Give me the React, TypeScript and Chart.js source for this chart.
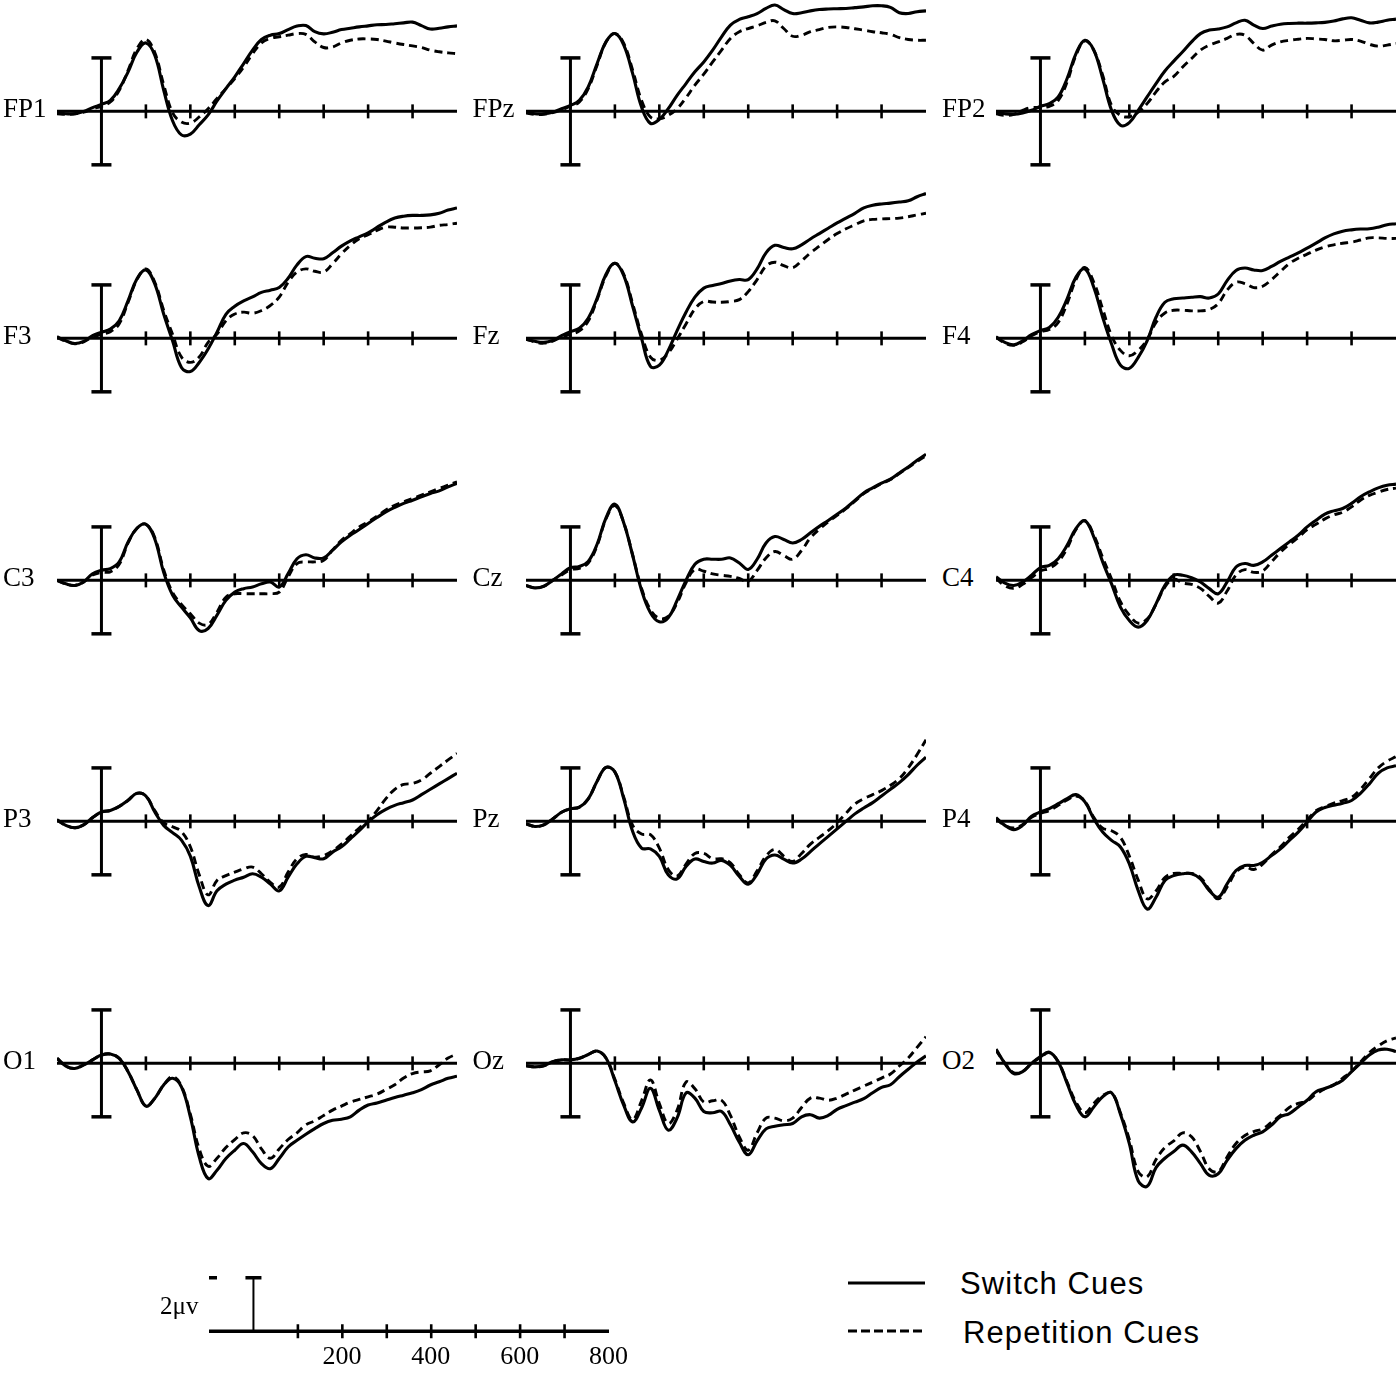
import React, { useEffect, useRef } from "react";
import { Chart, registerables } from "chart.js";

Chart.register(...registerables);

// ---------- data (time in ms, amplitude in µV) ----------
const TIMES = [
  -100, -80, -60, -40, -20, 0, 20, 40, 60, 80, 100, 120, 140, 160, 180, 200,
  220, 240, 260, 280, 300, 320, 340, 360, 380, 400, 420, 440, 460, 480, 500,
  520, 540, 560, 580, 600, 620, 640, 660, 680, 700, 720, 740, 760, 780, 800,
];
const TICK_TIMES = [100, 200, 300, 400, 500, 600, 700];
const SCALE_TICK_LABELS = [200, 400, 600, 800];
const CAL_UV = 2;

const CHANNEL_GRID = [
  ["FP1", "FPz", "FP2"],
  ["F3", "Fz", "F4"],
  ["C3", "Cz", "C4"],
  ["P3", "Pz", "P4"],
  ["O1", "Oz", "O2"],
];

const SWITCH_FP1 = [-0.06, -0.09, -0.09, 0, 0.14, 0.26, 0.41, 0.85, 1.48, 2.22, 2.56, 2.1, 0.8, -0.35, -0.88, -0.85, -0.5, -0.13, 0.39, 0.85, 1.29, 1.79, 2.29, 2.69, 2.85, 2.91, 3.06, 3.19, 3.21, 2.98, 2.9, 2.96, 3.06, 3.11, 3.16, 3.2, 3.24, 3.25, 3.28, 3.31, 3.34, 3.21, 3.08, 3.11, 3.16, 3.2];
const REPEAT_FP1 = [-0.09, -0.11, -0.09, -0.03, 0.1, 0.19, 0.35, 0.79, 1.54, 2.35, 2.69, 2.2, 1.0, -0.05, -0.4, -0.44, -0.21, 0.1, 0.48, 0.85, 1.23, 1.66, 2.16, 2.56, 2.73, 2.79, 2.85, 2.91, 2.88, 2.6, 2.39, 2.41, 2.56, 2.66, 2.71, 2.71, 2.69, 2.63, 2.56, 2.5, 2.45, 2.39, 2.29, 2.23, 2.19, 2.16];

const SWITCH_FPZ = [-0.03, -0.09, -0.09, -0.03, 0.1, 0.22, 0.41, 0.91, 1.79, 2.6, 2.91, 2.48, 1.41, 0.16, -0.45, -0.3, 0.1, 0.6, 1.04, 1.48, 1.85, 2.29, 2.79, 3.23, 3.44, 3.54, 3.66, 3.85, 3.98, 3.81, 3.66, 3.69, 3.76, 3.81, 3.83, 3.84, 3.85, 3.88, 3.91, 3.95, 3.95, 3.89, 3.69, 3.66, 3.73, 3.76];
const REPEAT_FPZ = [-0.06, -0.11, -0.11, -0.05, 0.06, 0.19, 0.35, 0.85, 1.73, 2.6, 2.91, 2.54, 1.54, 0.41, -0.21, -0.28, -0.15, 0.1, 0.51, 0.98, 1.39, 1.85, 2.29, 2.73, 2.98, 3.1, 3.2, 3.33, 3.39, 3.1, 2.81, 2.85, 2.98, 3.06, 3.14, 3.16, 3.14, 3.09, 3.04, 2.98, 2.94, 2.88, 2.76, 2.69, 2.66, 2.66];

const SWITCH_FP2 = [-0.03, -0.09, -0.11, -0.06, 0.04, 0.19, 0.29, 0.54, 1.23, 2.16, 2.66, 2.29, 1.23, 0.04, -0.52, -0.42, 0.04, 0.54, 1.04, 1.51, 1.88, 2.23, 2.6, 2.91, 3.04, 3.08, 3.16, 3.31, 3.41, 3.23, 3.1, 3.19, 3.26, 3.29, 3.3, 3.3, 3.31, 3.33, 3.38, 3.46, 3.5, 3.41, 3.31, 3.34, 3.41, 3.45];
const REPEAT_FP2 = [-0.09, -0.15, -0.11, 0.04, 0.14, 0.14, 0.19, 0.41, 1.1, 2.1, 2.64, 2.29, 1.35, 0.22, -0.15, -0.2, -0.03, 0.29, 0.73, 1.1, 1.31, 1.66, 1.98, 2.29, 2.48, 2.6, 2.73, 2.88, 2.85, 2.54, 2.29, 2.48, 2.6, 2.66, 2.7, 2.73, 2.71, 2.69, 2.64, 2.66, 2.69, 2.63, 2.51, 2.44, 2.48, 2.54];

const SWITCH_F3 = [0.06, -0.09, -0.19, -0.11, 0.1, 0.23, 0.35, 0.66, 1.41, 2.23, 2.56, 2.04, 0.91, -0.09, -1.09, -1.24, -0.9, -0.4, 0.23, 0.9, 1.2, 1.4, 1.55, 1.72, 1.8, 1.9, 2.25, 2.75, 3.06, 3.0, 2.98, 3.2, 3.45, 3.65, 3.8, 3.95, 4.15, 4.35, 4.5, 4.57, 4.6, 4.6, 4.62, 4.68, 4.8, 4.88];
const REPEAT_F3 = [0.04, -0.11, -0.2, -0.13, 0.05, 0.15, 0.25, 0.55, 1.35, 2.2, 2.6, 2.1, 1.05, 0.15, -0.7, -0.9, -0.7, -0.15, 0.16, 0.66, 0.91, 0.98, 0.94, 1.04, 1.23, 1.54, 2.1, 2.48, 2.6, 2.51, 2.48, 2.79, 3.16, 3.48, 3.73, 3.88, 4.04, 4.16, 4.16, 4.13, 4.13, 4.14, 4.16, 4.23, 4.26, 4.31];

const SWITCH_FZ = [-0.03, -0.11, -0.15, -0.08, 0.1, 0.25, 0.38, 0.75, 1.5, 2.4, 2.81, 2.35, 1.2, 0.0, -1.05, -1.0, -0.45, 0.29, 0.98, 1.54, 1.88, 1.98, 2.05, 2.15, 2.2, 2.2, 2.6, 3.2, 3.48, 3.4, 3.35, 3.5, 3.72, 3.92, 4.12, 4.32, 4.5, 4.68, 4.88, 4.98, 5.03, 5.06, 5.1, 5.15, 5.3, 5.42];
const REPEAT_FZ = [-0.03, -0.13, -0.18, -0.1, 0.05, 0.15, 0.28, 0.65, 1.45, 2.35, 2.81, 2.4, 1.3, 0.15, -0.7, -0.82, -0.55, -0.03, 0.54, 1.1, 1.38, 1.36, 1.35, 1.38, 1.45, 1.75, 2.2, 2.7, 2.85, 2.72, 2.64, 2.9, 3.2, 3.45, 3.7, 3.92, 4.1, 4.25, 4.4, 4.45, 4.47, 4.48, 4.5, 4.55, 4.62, 4.68];

const SWITCH_F4 = [0.06, -0.15, -0.24, -0.09, 0.14, 0.29, 0.41, 0.79, 1.48, 2.29, 2.6, 1.91, 0.79, -0.21, -1.0, -1.12, -0.71, -0.09, 0.79, 1.35, 1.48, 1.51, 1.54, 1.56, 1.51, 1.66, 2.16, 2.54, 2.63, 2.56, 2.54, 2.69, 2.88, 3.04, 3.2, 3.38, 3.56, 3.76, 3.91, 4.01, 4.06, 4.09, 4.1, 4.16, 4.25, 4.29];
const REPEAT_F4 = [0.04, -0.18, -0.26, -0.13, 0.1, 0.25, 0.33, 0.6, 1.3, 2.2, 2.65, 2.1, 1.1, 0.1, -0.45, -0.65, -0.45, -0.05, 0.6, 0.95, 1.05, 1.05, 1.03, 1.03, 1.08, 1.3, 1.8, 2.1, 2.05, 1.9, 1.95, 2.2, 2.5, 2.8, 3.0, 3.15, 3.3, 3.42, 3.5, 3.56, 3.6, 3.68, 3.76, 3.76, 3.74, 3.74];

const SWITCH_C3 = [0, -0.13, -0.19, -0.06, 0.25, 0.38, 0.44, 0.69, 1.44, 1.95, 2.1, 1.55, 0.3, -0.55, -1.0, -1.4, -1.88, -1.8, -1.3, -0.75, -0.44, -0.31, -0.25, -0.13, -0.06, -0.25, 0.25, 0.81, 0.96, 0.84, 0.84, 1.13, 1.44, 1.69, 1.9, 2.13, 2.35, 2.56, 2.73, 2.88, 3.0, 3.13, 3.25, 3.35, 3.5, 3.63];
const REPEAT_C3 = [0, -0.13, -0.19, -0.06, 0.2, 0.3, 0.32, 0.6, 1.4, 1.95, 2.1, 1.6, 0.4, -0.45, -0.9, -1.25, -1.6, -1.65, -1.19, -0.63, -0.5, -0.5, -0.5, -0.5, -0.5, -0.44, 0.13, 0.63, 0.69, 0.69, 0.75, 1.13, 1.5, 1.75, 2.0, 2.19, 2.4, 2.63, 2.81, 2.94, 3.06, 3.19, 3.31, 3.44, 3.56, 3.69];

const SWITCH_CZ = [-0.19, -0.28, -0.22, 0, 0.24, 0.47, 0.52, 0.71, 1.35, 2.34, 2.85, 2.15, 0.93, -0.37, -1.21, -1.55, -1.4, -0.75, 0, 0.6, 0.79, 0.79, 0.79, 0.84, 0.65, 0.41, 0.79, 1.4, 1.64, 1.53, 1.4, 1.53, 1.78, 2.02, 2.24, 2.47, 2.71, 2.99, 3.27, 3.46, 3.64, 3.79, 4.02, 4.24, 4.49, 4.72];
const REPEAT_CZ = [-0.19, -0.28, -0.22, 0, 0.2, 0.4, 0.45, 0.65, 1.3, 2.3, 2.8, 2.15, 0.95, -0.3, -1.1, -1.42, -1.35, -0.84, -0.09, 0.41, 0.34, 0.24, 0.19, 0.15, 0.07, -0.04, 0.37, 0.84, 1.08, 0.93, 0.79, 1.12, 1.59, 1.91, 2.19, 2.43, 2.68, 2.96, 3.25, 3.44, 3.62, 3.77, 4.0, 4.22, 4.45, 4.66];

const SWITCH_C4 = [0.13, -0.1, -0.19, -0.06, 0.19, 0.48, 0.56, 0.81, 1.31, 1.94, 2.23, 1.63, 0.69, -0.13, -1.0, -1.5, -1.75, -1.5, -0.88, -0.19, 0.19, 0.19, 0.1, -0.06, -0.31, -0.5, -0.06, 0.5, 0.63, 0.56, 0.69, 0.94, 1.19, 1.44, 1.69, 2.0, 2.25, 2.48, 2.6, 2.69, 2.88, 3.13, 3.31, 3.46, 3.56, 3.6];
const REPEAT_C4 = [0.08, -0.2, -0.3, -0.15, 0.1, 0.35, 0.45, 0.7, 1.2, 1.9, 2.23, 1.7, 0.85, 0.05, -0.8, -1.3, -1.6, -1.45, -0.9, -0.25, 0.05, -0.1, -0.15, -0.3, -0.6, -0.85, -0.4, 0.2, 0.4, 0.3, 0.35, 0.7, 1.05, 1.35, 1.6, 1.9, 2.1, 2.3, 2.45, 2.55, 2.75, 3.0, 3.18, 3.3, 3.4, 3.45];

const SWITCH_P3 = [0.06, -0.15, -0.24, -0.13, 0.14, 0.35, 0.41, 0.56, 0.79, 1.05, 0.95, 0.35, -0.15, -0.42, -0.7, -1.3, -2.45, -3.15, -2.6, -2.35, -2.2, -2.09, -1.96, -2.09, -2.34, -2.6, -2.09, -1.59, -1.31, -1.36, -1.4, -1.15, -0.95, -0.65, -0.35, -0.02, 0.25, 0.45, 0.6, 0.7, 0.8, 1.0, 1.2, 1.4, 1.6, 1.8];
const REPEAT_P3 = [0.06, -0.15, -0.24, -0.13, 0.14, 0.35, 0.41, 0.56, 0.79, 1.05, 0.95, 0.4, -0.05, -0.2, -0.38, -0.95, -2.0, -2.75, -2.21, -2.03, -1.9, -1.78, -1.71, -1.96, -2.28, -2.46, -1.9, -1.4, -1.24, -1.34, -1.28, -1.1, -0.85, -0.55, -0.25, 0.02, 0.4, 0.85, 1.2, 1.38, 1.42, 1.55, 1.8, 2.05, 2.3, 2.54];

const SWITCH_PZ = [-0.09, -0.19, -0.13, 0.09, 0.34, 0.47, 0.53, 0.84, 1.5, 2.02, 1.85, 0.84, -0.38, -1.0, -1.03, -1.31, -2.0, -2.15, -1.69, -1.41, -1.5, -1.56, -1.46, -1.65, -2.06, -2.35, -1.97, -1.41, -1.26, -1.41, -1.56, -1.41, -1.13, -0.84, -0.56, -0.28, 0, 0.28, 0.5, 0.7, 0.95, 1.2, 1.45, 1.75, 2.1, 2.4];
const REPEAT_PZ = [-0.09, -0.19, -0.13, 0.09, 0.34, 0.47, 0.53, 0.84, 1.5, 2.02, 1.85, 0.9, -0.15, -0.47, -0.5, -1.0, -1.8, -2.05, -1.6, -1.2, -1.2, -1.4, -1.4, -1.55, -2.0, -2.3, -1.85, -1.3, -1.05, -1.3, -1.5, -1.2, -0.85, -0.6, -0.35, -0.05, 0.3, 0.65, 0.85, 1.0, 1.15, 1.35, 1.6, 2.0, 2.5, 3.05];

const SWITCH_P4 = [0.14, -0.15, -0.31, -0.15, 0.19, 0.35, 0.48, 0.66, 0.85, 1.0, 0.73, 0.1, -0.4, -0.71, -0.96, -1.59, -2.59, -3.28, -2.84, -2.21, -2.03, -1.96, -1.96, -2.15, -2.59, -2.84, -2.34, -1.84, -1.65, -1.65, -1.53, -1.28, -1.03, -0.71, -0.4, -0.03, 0.35, 0.52, 0.6, 0.68, 0.78, 1.05, 1.4, 1.8, 2.0, 2.08];
const REPEAT_P4 = [0.1, -0.15, -0.25, -0.12, 0.15, 0.3, 0.4, 0.6, 0.8, 0.95, 0.75, 0.15, -0.25, -0.35, -0.6, -1.3, -2.2, -2.9, -2.6, -2.1, -1.95, -1.95, -1.95, -2.1, -2.55, -2.9, -2.45, -1.9, -1.7, -1.8, -1.6, -1.25, -0.95, -0.6, -0.3, 0.05, 0.4, 0.55, 0.68, 0.78, 0.9, 1.2, 1.6, 2.0, 2.25, 2.42];

const SWITCH_O1 = [0.19, -0.1, -0.19, -0.06, 0.13, 0.31, 0.35, 0.19, -0.31, -1.0, -1.6, -1.31, -0.81, -0.56, -0.88, -2.0, -3.5, -4.31, -4.0, -3.56, -3.25, -3.0, -3.31, -3.75, -3.94, -3.56, -3.13, -2.88, -2.65, -2.44, -2.25, -2.13, -2.09, -2.0, -1.75, -1.56, -1.48, -1.38, -1.28, -1.19, -1.1, -0.98, -0.81, -0.69, -0.56, -0.48];
const REPEAT_O1 = [0.19, -0.1, -0.19, -0.06, 0.13, 0.31, 0.35, 0.19, -0.31, -1.0, -1.6, -1.31, -0.81, -0.5, -0.85, -1.9, -3.2, -3.85, -3.55, -3.15, -2.85, -2.6, -2.7, -3.2, -3.55, -3.2, -2.85, -2.6, -2.3, -2.15, -1.95, -1.75, -1.6, -1.45, -1.35, -1.25, -1.15, -0.98, -0.8, -0.55, -0.38, -0.32, -0.28, -0.05, 0.2, 0.35];

const SWITCH_OZ = [-0.09, -0.13, -0.09, 0.06, 0.13, 0.13, 0.19, 0.33, 0.46, 0.2, -0.65, -1.57, -2.19, -1.67, -0.93, -1.76, -2.5, -2.04, -1.11, -1.3, -1.8, -1.85, -1.8, -2.3, -2.95, -3.42, -2.9, -2.45, -2.35, -2.3, -2.25, -2.0, -1.92, -2.05, -1.95, -1.72, -1.58, -1.45, -1.32, -1.1, -0.9, -0.8, -0.5, -0.22, 0.05, 0.28];
const REPEAT_OZ = [-0.09, -0.13, -0.09, 0.06, 0.13, 0.13, 0.19, 0.33, 0.46, 0.2, -0.6, -1.5, -2.1, -1.4, -0.62, -1.5, -2.25, -1.75, -0.7, -0.95, -1.45, -1.4, -1.38, -1.95, -2.75, -3.25, -2.6, -2.05, -2.05, -2.15, -2.05, -1.65, -1.3, -1.3, -1.38, -1.3, -1.15, -1.0, -0.85, -0.7, -0.55, -0.4, -0.1, 0.2, 0.6, 1.0];

const SWITCH_O2 = [0.53, 0, -0.38, -0.31, 0, 0.25, 0.42, 0.06, -0.75, -1.56, -2.0, -1.63, -1.25, -1.1, -1.9, -3.0, -4.4, -4.6, -3.9, -3.55, -3.3, -3.06, -3.31, -3.75, -4.19, -4.13, -3.63, -3.19, -2.88, -2.69, -2.56, -2.31, -2.0, -1.88, -1.63, -1.38, -1.06, -0.94, -0.81, -0.63, -0.31, 0, 0.31, 0.5, 0.53, 0.44];
const REPEAT_O2 = [0.5, 0, -0.35, -0.3, 0, 0.22, 0.4, 0.06, -0.7, -1.45, -1.85, -1.5, -1.2, -1.1, -1.85, -2.85, -4.05, -4.25, -3.6, -3.15, -2.9, -2.6, -2.75, -3.3, -3.95, -4.05, -3.5, -3.0, -2.7, -2.55, -2.45, -2.2, -1.95, -1.65, -1.5, -1.4, -1.15, -0.95, -0.8, -0.55, -0.3, 0.05, 0.4, 0.65, 0.85, 0.95];

const SERIES: Record<string, [number[], number[]]> = {
  FP1: [SWITCH_FP1, REPEAT_FP1],
  FPz: [SWITCH_FPZ, REPEAT_FPZ],
  FP2: [SWITCH_FP2, REPEAT_FP2],
  F3: [SWITCH_F3, REPEAT_F3],
  Fz: [SWITCH_FZ, REPEAT_FZ],
  F4: [SWITCH_F4, REPEAT_F4],
  C3: [SWITCH_C3, REPEAT_C3],
  Cz: [SWITCH_CZ, REPEAT_CZ],
  C4: [SWITCH_C4, REPEAT_C4],
  P3: [SWITCH_P3, REPEAT_P3],
  Pz: [SWITCH_PZ, REPEAT_PZ],
  P4: [SWITCH_P4, REPEAT_P4],
  O1: [SWITCH_O1, REPEAT_O1],
  Oz: [SWITCH_OZ, REPEAT_OZ],
  O2: [SWITCH_O2, REPEAT_O2],
};

// ---------- layout ----------
const COL_X0 = [101, 570.5, 1040];
const ROW_Y0 = [111, 338, 580, 821, 1063];
const SCALE_X0 = 253;
const SCALE_Y0 = 1331;
const PX_PER_UV = 26.7;
const T_MIN = -100;
const T_MAX = 800;
const PLOT_W = 400;
const PAD = 14;

const SERIF = '"Liberation Serif", "Times New Roman", serif';
const SANS = '"Liberation Sans", Arial, sans-serif';

const erpAxesPlugin = {
  id: "erpAxes",
  beforeDatasetsDraw(chart: any, _args: any, opts: any) {
    const { ctx } = chart;
    const x = chart.scales.x;
    const y = chart.scales.y;
    const y0 = y.getPixelForValue(0);
    const x0 = x.getPixelForValue(0);
    const seg = (a: number, b: number, c: number, d: number) => {
      ctx.beginPath();
      ctx.moveTo(a, b);
      ctx.lineTo(c, d);
      ctx.stroke();
    };
    ctx.save();
    ctx.strokeStyle = "#000";
    ctx.lineCap = "butt";
    ctx.lineWidth = opts.mode === "scale" ? 3.5 : 3;
    seg(x.getPixelForValue(T_MIN), y0, x.getPixelForValue(T_MAX), y0);
    ctx.lineWidth = 2.6;
    TICK_TIMES.forEach((t) => {
      const px = x.getPixelForValue(t);
      seg(px, y0 - 7, px, y0 + 7);
    });
    const yt = y.getPixelForValue(CAL_UV);
    if (opts.mode === "panel") {
      const yb = y.getPixelForValue(-CAL_UV);
      ctx.lineWidth = 3;
      seg(x0, yt, x0, yb);
      ctx.lineWidth = 3.5;
      seg(x0 - 10, yt, x0 + 10, yt);
      seg(x0 - 10, yb, x0 + 10, yb);
    } else {
      ctx.lineWidth = 2;
      seg(x0, y0, x0, yt);
      ctx.lineWidth = 3.5;
      seg(x0 - 8, yt, x0 + 8, yt);
      seg(x.getPixelForValue(-100), yt, x.getPixelForValue(-82), yt);
    }
    ctx.restore();
  },
};

type ErpProps = {
  x0: number;
  y0: number;
  uvMin: number;
  uvMax: number;
  mode: "panel" | "scale";
  sw?: number[];
  rp?: number[];
};

function ErpChart({ x0, y0, uvMin, uvMax, mode, sw, rp }: ErpProps) {
  const ref = useRef<HTMLCanvasElement | null>(null);
  const plotH = Math.round((uvMax - uvMin) * PX_PER_UV);
  const w = PLOT_W + 2 * PAD;
  const h = plotH + 2 * PAD;
  const left = x0 - ((0 - T_MIN) * PLOT_W) / (T_MAX - T_MIN) - PAD;
  const top = y0 - (uvMax * plotH) / (uvMax - uvMin) - PAD;

  useEffect(() => {
    if (!ref.current) return;
    const datasets: any[] = [];
    if (sw && rp) {
      datasets.push({
        label: "Switch Cues",
        data: TIMES.map((t, i) => ({ x: t, y: sw[i] })),
        borderColor: "#000",
        borderWidth: 3.1,
        pointRadius: 0,
        tension: 0.4,
        fill: false,
      });
      datasets.push({
        label: "Repetition Cues",
        data: TIMES.map((t, i) => ({ x: t, y: rp[i] })),
        borderColor: "#000",
        borderWidth: 2.9,
        borderDash: [8, 5],
        pointRadius: 0,
        tension: 0.4,
        fill: false,
      });
    }
    const chart = new Chart(ref.current, {
      type: "line",
      data: { datasets },
      options: {
        animation: false,
        responsive: false,
        maintainAspectRatio: false,
        devicePixelRatio: 1,
        events: [],
        layout: { padding: PAD },
        scales: {
          x: { type: "linear", min: T_MIN, max: T_MAX, display: false },
          y: { type: "linear", min: uvMin, max: uvMax, display: false },
        },
        plugins: {
          legend: { display: false },
          tooltip: { enabled: false },
          erpAxes: { mode },
        } as any,
      },
      plugins: [erpAxesPlugin],
    } as any);
    return () => chart.destroy();
  }, []);

  return (
    <canvas
      ref={ref}
      width={w}
      height={h}
      style={{ position: "absolute", left, top, width: w, height: h }}
    />
  );
}

const labelStyle = (left: number, top: number, size: number): React.CSSProperties => ({
  position: "absolute",
  left,
  top,
  fontFamily: SERIF,
  fontSize: size,
  lineHeight: `${size}px`,
  whiteSpace: "nowrap",
  color: "#000",
});

const legendTextStyle = (left: number, top: number): React.CSSProperties => ({
  position: "absolute",
  left,
  top,
  fontFamily: SANS,
  fontSize: 31,
  lineHeight: "31px",
  letterSpacing: 1.1,
  whiteSpace: "nowrap",
  color: "#000",
});

export default function App() {
  useEffect(() => {
    document.body.style.margin = "0";
  }, []);

  return (
    <div
      style={{
        position: "absolute",
        left: 0,
        top: 0,
        width: 1400,
        height: 1382,
        overflow: "hidden",
        background: "#fff",
      }}
    >
      {CHANNEL_GRID.map((row, r) =>
        row.map((name, c) => (
          <React.Fragment key={name}>
            <ErpChart
              x0={COL_X0[c]}
              y0={ROW_Y0[r]}
              uvMin={-5}
              uvMax={6}
              mode="panel"
              sw={SERIES[name][0]}
              rp={SERIES[name][1]}
            />
            <div style={labelStyle(COL_X0[c] - 98, ROW_Y0[r] - 15.6, 27)}>{name}</div>
          </React.Fragment>
        ))
      )}

      {/* calibration scale */}
      <ErpChart x0={SCALE_X0} y0={SCALE_Y0} uvMin={-1} uvMax={3} mode="scale" />
      <div style={labelStyle(160, 1293, 25)}>2μv</div>
      {SCALE_TICK_LABELS.map((v) => (
        <div
          key={v}
          style={{
            ...labelStyle(SCALE_X0 + v * (PLOT_W / (T_MAX - T_MIN)) - 30, 1343, 26),
            width: 60,
            textAlign: "center",
          }}
        >
          {v}
        </div>
      ))}

      {/* legend */}
      <svg
        width={90}
        height={80}
        style={{ position: "absolute", left: 844, top: 1270 }}
      >
        <line x1={4} y1={13} x2={81} y2={13} stroke="#000" strokeWidth={3} />
        <line x1={4} y1={61} x2={81} y2={61} stroke="#000" strokeWidth={3.2} strokeDasharray="9 4" />
      </svg>
      <div style={legendTextStyle(960, 1268)}>Switch Cues</div>
      <div style={legendTextStyle(963, 1317)}>Repetition Cues</div>
    </div>
  );
}
